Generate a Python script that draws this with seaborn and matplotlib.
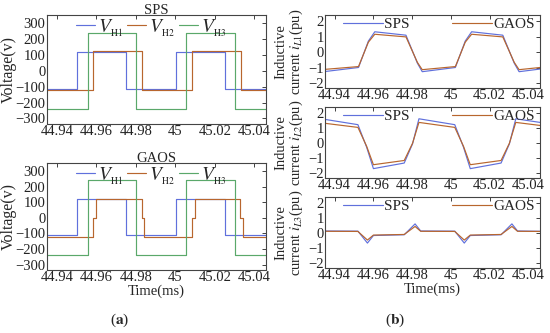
import matplotlib
matplotlib.use("Agg")
import matplotlib.pyplot as plt
import seaborn as sns
import numpy as np

# ---------------- data ----------------
# left: bridge voltages (step levels, steps-post)
t_vh1 = [44.935, 44.9502, 44.9752, 45.0002, 45.0252, 45.046]
v_vh1 = [-112, 120, -112, 120, -112, -112]
t_vh2_sps = [44.935, 44.9583, 44.9833, 45.0083, 45.0333, 45.046]
v_vh2_sps = [-120, 124, -120, 124, -120, -120]
t_vh3 = [44.935, 44.9556, 44.9803, 45.0056, 45.0303, 45.046]
v_vh3 = [-238, 240, -238, 240, -238, -238]
t_vh2_gaos = [44.935, 44.9585, 44.9600, 44.9829, 44.9841, 45.0085, 45.0100, 45.0329, 45.0341, 45.046]
v_vh2_gaos = [-122, 0, 124, 0, -122, 0, 124, 0, -122, -122]

# right: inductor currents
t_i1 = [44.935, 44.9523, 44.9574, 44.9607, 44.9768, 44.9827, 44.9852,
        45.0023, 45.0074, 45.0107, 45.0268, 45.0327, 45.0352, 45.046]
i1_sps = [-1.24, -0.98, 0.72, 1.32, 1.10, -0.70, -1.25, -0.98, 0.72, 1.32, 1.10, -0.70, -1.25, -1.08]
i1_gaos = [-1.10, -0.92, 0.65, 1.16, 0.99, -0.65, -1.12, -0.92, 0.65, 1.16, 0.99, -0.65, -1.12, -0.98]

t_i2 = [44.935, 44.952, 44.9565, 44.960, 44.9759, 44.9802, 44.9835,
        45.002, 45.0065, 45.010, 45.0259, 45.0302, 45.0335, 45.046]
i2_sps = [1.58, 1.23, -0.26, -1.68, -1.31, -0.04, 1.62, 1.23, -0.26, -1.68, -1.31, -0.04, 1.62, 1.38]
i2_gaos = [1.32, 1.05, -0.20, -1.42, -1.14, 0.00, 1.38, 1.05, -0.20, -1.42, -1.14, 0.00, 1.38, 1.18]

t_i3 = [44.935, 44.952, 44.9569, 44.960, 44.9759, 44.9815, 44.9844,
        45.002, 45.0069, 45.010, 45.0259, 45.0315, 45.0344, 45.046]
i3_sps = [0.15, 0.14, -0.65, -0.15, -0.10, 0.62, 0.15, 0.14, -0.65, -0.15, -0.10, 0.62, 0.15, 0.13]
i3_gaos = [0.13, 0.12, -0.45, -0.12, -0.08, 0.45, 0.13, 0.12, -0.45, -0.12, -0.08, 0.45, 0.13, 0.12]

x_ticks = [44.94, 44.96, 44.98, 45.0, 45.02, 45.04]
x_ticklabels = ["44.94", "44.96", "44.98", "45", "45.02", "45.04"]
v_ticks = [-300, -200, -100, 0, 100, 200, 300]
i_ticks = [-2, -1, 0, 1, 2]

# ---------------- style ----------------
sns.set_theme(style="white")
plt.rcParams["font.family"] = ["Liberation Serif", "DejaVu Serif"]
plt.rcParams["mathtext.fontset"] = "stix"
plt.rcParams["axes.edgecolor"] = "#555555"
plt.rcParams["axes.linewidth"] = 0.8

C_BLUE = "#6070dc"
C_ORANGE = "#b8662e"
C_GREEN = "#5aa86a"

fig = plt.figure(figsize=(5.5, 3.33), dpi=100)
W, H = 550.0, 333.0

def add_ax(l, t, r, b):
    return fig.add_axes([l / W, 1 - b / H, (r - l) / W, (b - t) / H])

def style(ax, yt, ylim):
    ax.set_xlim(44.935, 45.046)
    ax.set_ylim(*ylim)
    ax.set_xticks(x_ticks)
    ax.set_xticklabels(x_ticklabels)
    ax.set_yticks(yt)
    ax.tick_params(direction="in", length=3, width=0.6, top=True, right=True,
                   labelsize=10.5, pad=1, colors="#222222")
    for s in ax.spines.values():
        s.set_visible(True)
        s.set_color("#444444")

# ---- left panels ----
axL1 = add_ax(47, 15, 266, 124)
axL2 = add_ax(47, 163, 266, 270)

for ax, t2, v2, title in [(axL1, t_vh2_sps, v_vh2_sps, "SPS"),
                          (axL2, t_vh2_gaos, v_vh2_gaos, "GAOS")]:
    sns.lineplot(x=t_vh1, y=v_vh1, ax=ax, color=C_BLUE, lw=0.85, drawstyle="steps-post",
                 estimator=None, sort=False, label=r"$V_{_{\rm H1}}$")
    sns.lineplot(x=t2, y=v2, ax=ax, color=C_ORANGE, lw=0.85, drawstyle="steps-post",
                 estimator=None, sort=False, label=r"$V_{_{\rm H2}}$")
    sns.lineplot(x=t_vh3, y=v_vh3, ax=ax, color=C_GREEN, lw=0.85, drawstyle="steps-post",
                 estimator=None, sort=False, label=r"$V_{_{\rm H3}}$")
    style(ax, v_ticks, (-335, 352))
    ax.set_title(title, fontsize=10.5, pad=1)
    ax.set_ylabel("Voltage(v)", fontsize=11.5)
    ax.yaxis.set_label_coords(-0.14, 0.5)
    ax.set_xlabel("")
    ax.legend(loc="upper center", bbox_to_anchor=(0.475, 1.07), ncol=3, frameon=False,
              fontsize=14, handlelength=1.0, handletextpad=0.15, columnspacing=0.2,
              borderaxespad=0.1)

axL2.set_xlabel("Time(ms)", fontsize=10.5, labelpad=0)

# ---- right panels ----
axR1 = add_ax(325, 15, 540, 88)
axR2 = add_ax(325, 107, 540, 178)
axR3 = add_ax(325, 197, 540, 268)

for ax, t, s, g, lab in [(axR1, t_i1, i1_sps, i1_gaos, "L1"),
                         (axR2, t_i2, i2_sps, i2_gaos, "L2"),
                         (axR3, t_i3, i3_sps, i3_gaos, "L3")]:
    sns.lineplot(x=t, y=s, ax=ax, color=C_BLUE, lw=0.85, estimator=None, sort=False, label="SPS")
    sns.lineplot(x=t, y=g, ax=ax, color=C_ORANGE, lw=0.85, estimator=None, sort=False, label="GAOS")
    style(ax, i_ticks, (-2.3, 2.4))
    ax.set_ylabel("Inductive\ncurrent $i_{" + lab + "}$(pu)", fontsize=10.5, labelpad=2,
                  linespacing=1.0)
    ax.set_xlabel("")
    ax.legend(loc="upper center", bbox_to_anchor=(0.53, 1.07), ncol=2, frameon=False,
              fontsize=11, handlelength=2.6, handletextpad=0.1, columnspacing=2.8,
              borderaxespad=0.1)

axR3.set_xlabel("Time(ms)", fontsize=10.5, labelpad=0)

fig.text(120 / W, 1 - 320 / H, r"($\mathbf{a}$)", ha="center", va="center", fontsize=11)
fig.text(395 / W, 1 - 320 / H, r"($\mathbf{b}$)", ha="center", va="center", fontsize=11)

fig.savefig("out.png", dpi=100, facecolor="white")
